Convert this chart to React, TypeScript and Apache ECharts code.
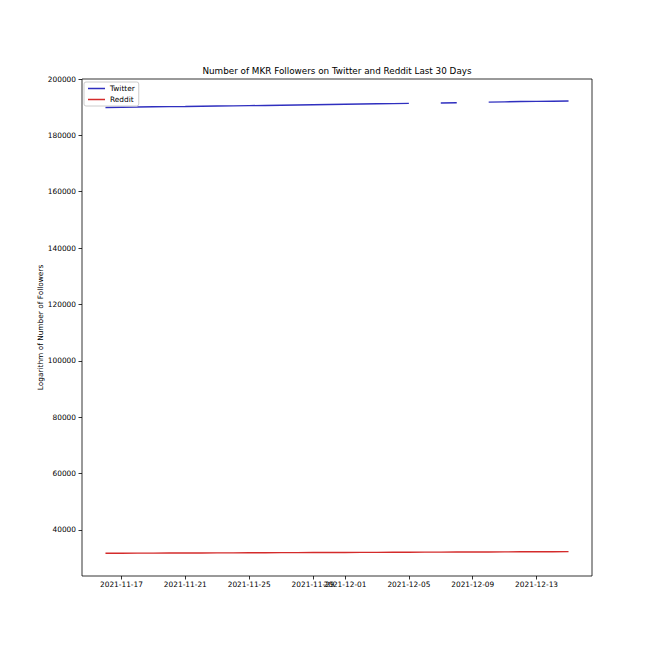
import { useEffect, useRef } from 'react';
import * as echarts from 'echarts';

// days shown on the x axis (one value per day)
const dates = [
  '2021-11-16', '2021-11-17', '2021-11-18', '2021-11-19', '2021-11-20',
  '2021-11-21', '2021-11-22', '2021-11-23', '2021-11-24', '2021-11-25',
  '2021-11-26', '2021-11-27', '2021-11-28', '2021-11-29', '2021-11-30',
  '2021-12-01', '2021-12-02', '2021-12-03', '2021-12-04', '2021-12-05',
  '2021-12-06', '2021-12-07', '2021-12-08', '2021-12-09', '2021-12-10',
  '2021-12-11', '2021-12-12', '2021-12-13', '2021-12-14', '2021-12-15',
];

// null = no data for that day (gap in the line)
const twitter: (number | null)[] = [
  189900, 190000, 190060, 190130, 190200,
  190260, 190330, 190400, 190470, 190540,
  190620, 190700, 190780, 190860, 190950,
  191050, 191140, 191200, 191260, 191350,
  null, 191500, 191580, null, 191800,
  191900, 192000, 192060, 192120, 192180,
];

const reddit = [
  31700, 31720, 31740, 31760, 31780,
  31800, 31820, 31840, 31860, 31880,
  31900, 31920, 31940, 31960, 31980,
  32000, 32020, 32040, 32060, 32080,
  32100, 32120, 32140, 32160, 32180,
  32200, 32220, 32240, 32260, 32300,
];

const xTickLabels = [
  '2021-11-17', '2021-11-21', '2021-11-25', '2021-11-29',
  '2021-12-01', '2021-12-05', '2021-12-09', '2021-12-13',
];

const yTicks = [40000, 60000, 80000, 100000, 120000, 140000, 160000, 180000, 200000];

const FONT = '"DejaVu Sans", sans-serif';
const BLUE = '#2f2fbf';
const RED = '#d42b2b';

export default function App() {
  const chartRef = useRef<HTMLDivElement>(null);

  useEffect(() => {
    if (!chartRef.current) return;
    const chart = echarts.init(chartRef.current, null, { renderer: 'svg' });

    const xTickValues = xTickLabels.map((d) => dates.indexOf(d));

    const option: echarts.EChartsOption = {
      animation: false,
      backgroundColor: '#ffffff',
      textStyle: { fontFamily: FONT },
      title: {
        text: 'Number of MKR Followers on Twitter and Reddit Last 30 Days',
        left: 337,
        top: 66,
        padding: 0,
        textAlign: 'center',
        textStyle: {
          fontFamily: FONT,
          fontSize: 8.8,
          fontWeight: 'normal',
          color: '#000000',
        },
      },
      legend: {
        orient: 'vertical',
        left: 84,
        top: 82,
        padding: [3, 4, 3, 4],
        itemGap: 4,
        itemWidth: 17,
        itemHeight: 1.5,
        icon: 'rect',
        borderColor: '#cccccc',
        borderWidth: 1,
        borderRadius: 2,
        backgroundColor: 'rgba(255,255,255,0.8)',
        textStyle: { fontFamily: FONT, fontSize: 7.4, color: '#000000' },
        data: ['Twitter', 'Reddit'],
      },
      grid: {
        left: 82,
        right: 65,
        top: 79,
        bottom: 81,
        show: true,
        borderColor: '#000000',
        borderWidth: 0.8,
        backgroundColor: 'transparent',
      },
      xAxis: {
        type: 'value',
        min: -1.47,
        max: dates.length - 1 + 1.47,
        axisLine: { show: false, onZero: false },
        splitLine: { show: false },
        axisTick: {
          show: true,
          inside: false,
          length: 3.5,
          lineStyle: { color: '#000000', width: 0.8 },
          customValues: xTickValues,
        },
        axisLabel: {
          color: '#000000',
          fontSize: 7.4,
          fontFamily: FONT,
          margin: 5,
          customValues: xTickValues,
          formatter: (v: number) => dates[Math.round(v)] ?? '',
        },
      },
      yAxis: {
        type: 'value',
        min: 23640,
        max: 200000,
        name: 'Logarithm of Number of Followers',
        nameLocation: 'middle',
        nameGap: 38,
        nameRotate: 90,
        nameMoveOverlap: false,
        nameTextStyle: { fontFamily: FONT, fontSize: 7.4, color: '#000000' },
        axisLine: { show: false, onZero: false },
        splitLine: { show: false },
        axisTick: {
          show: true,
          inside: false,
          length: 3.5,
          lineStyle: { color: '#000000', width: 0.8 },
          customValues: yTicks,
        },
        axisLabel: {
          color: '#000000',
          fontSize: 7.4,
          fontFamily: FONT,
          margin: 6,
          customValues: yTicks,
          formatter: (v: number) => String(v),
        },
      } as any,
      series: [
        {
          name: 'Twitter',
          type: 'line',
          symbol: 'none',
          connectNulls: false,
          color: BLUE,
          lineStyle: { color: BLUE, width: 1.4 },
          data: twitter.map((v, i) => [i, v === null ? '-' : v]),
        },
        {
          name: 'Reddit',
          type: 'line',
          symbol: 'none',
          color: RED,
          lineStyle: { color: RED, width: 1.4 },
          data: reddit.map((v, i) => [i, v]),
        },
      ],
    };

    chart.setOption(option);
    return () => chart.dispose();
  }, []);

  return (
    <div
      ref={chartRef}
      style={{ position: 'fixed', left: 0, top: 0, width: 657, height: 657 }}
    />
  );
}
